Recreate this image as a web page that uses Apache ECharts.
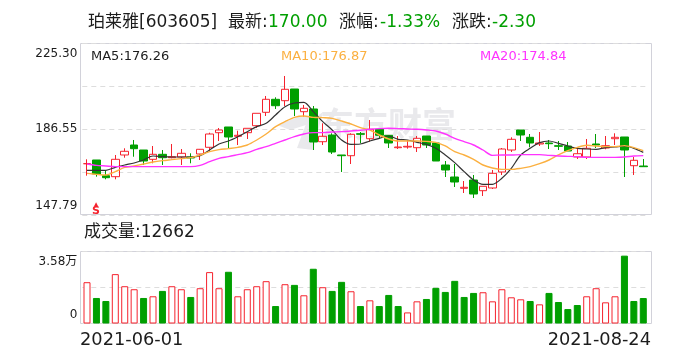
<!DOCTYPE html>
<html>
<head>
<meta charset="utf-8">
<style>
  html, body { margin: 0; padding: 0; background: #fff; }
  #chart { width: 688px; height: 360px; }
</style>
<script src="https://cdn.jsdelivr.net/npm/echarts@6/dist/echarts.min.js"></script>
</head>
<body>
<div id="chart"></div>
<script>
const dates = [
  '2021-06-01','2021-06-02','2021-06-03','2021-06-04','2021-06-07','2021-06-08','2021-06-09','2021-06-10','2021-06-11','2021-06-15',
  '2021-06-16','2021-06-17','2021-06-18','2021-06-21','2021-06-22','2021-06-23','2021-06-24','2021-06-25','2021-06-28','2021-06-29',
  '2021-06-30','2021-07-01','2021-07-02','2021-07-05','2021-07-06','2021-07-07','2021-07-08','2021-07-09','2021-07-12','2021-07-13',
  '2021-07-14','2021-07-15','2021-07-16','2021-07-19','2021-07-20','2021-07-21','2021-07-22','2021-07-23','2021-07-26','2021-07-27',
  '2021-07-28','2021-07-29','2021-07-30','2021-08-02','2021-08-03','2021-08-04','2021-08-05','2021-08-06','2021-08-09','2021-08-10',
  '2021-08-11','2021-08-12','2021-08-13','2021-08-16','2021-08-17','2021-08-18','2021-08-19','2021-08-20','2021-08-23','2021-08-24'
];

// [open, close, low, high]
const candles = [
  [170.91,170.91,165.50,172.89],[172.58,166.27,165.05,172.58],[165.50,164.60,163.88,167.62],[165.05,172.89,163.88,174.83],[174.83,176.50,173.61,177.85],
  [179.33,177.67,174.06,181.59],[177.08,172.12,170.32,177.08],[172.89,175.14,171.09,178.88],[175.14,173.61,170.32,177.08],[173.61,174.06,173.34,179.79],
  [173.93,175.59,170.32,177.53],[173.93,173.48,171.09,175.59],[175.28,177.40,172.58,177.53],[178.30,184.29,176.77,184.88],[184.88,186.09,181.14,187.00],
  [187.45,182.94,177.98,187.45],[183.26,183.71,179.33,185.78],[184.88,186.86,182.04,186.86],[188.03,193.62,187.00,193.62],[194.07,199.93,192.40,201.42],
  [199.93,197.04,195.56,200.83],[199.30,204.44,196.91,210.43],[204.57,195.56,192.40,204.57],[194.34,195.87,192.09,197.36],[195.56,180.69,177.08,196.91],
  [180.82,183.26,179.33,189.11],[183.84,176.18,175.28,184.61],[174.83,174.51,167.17,174.83],[174.51,184.16,170.77,184.61],[184.43,184.16,180.10,185.19],
  [182.17,186.41,180.82,190.60],[186.41,183.71,182.17,186.41],[183.71,180.24,177.98,183.71],[178.12,178.43,177.53,183.39],[178.43,178.75,177.67,181.59],
  [178.12,182.35,176.18,183.39],[183.39,179.33,177.98,183.39],[180.24,172.12,172.12,180.24],[170.32,168.07,164.91,172.12],[164.91,162.66,160.41,170.77],
  [159.82,160.27,157.70,163.11],[163.56,157.25,155.45,165.82],[158.74,160.72,156.35,160.72],[159.96,166.58,159.51,168.07],[167.17,177.53,165.82,177.98],
  [177.08,181.90,176.18,182.80],[186.09,183.84,181.14,186.09],[182.80,180.24,178.30,184.29],[179.79,180.24,178.88,185.19],[180.24,179.92,177.53,181.59],
  [179.02,178.75,177.08,181.14],[178.88,176.63,176.63,180.69],[173.93,175.41,173.03,178.12],[173.93,177.85,173.03,182.04],[179.79,179.33,177.98,184.29],
  [177.98,179.02,177.40,183.39],[182.17,182.80,179.33,184.61],[182.94,177.08,164.91,182.94],[170.01,172.44,165.82,173.93],[169.87,169.56,169.56,173.03]
];

const ma5 = [
  167.92,167.92,167.92,169.27,170.32,171.23,172.58,174.38,174.08,173.93,
  173.93,173.93,174.53,177.08,179.79,181.14,183.09,185.34,187.60,189.10,
  192.86,196.61,198.26,198.56,194.36,189.85,186.10,181.59,179.64,179.79,
  181.14,182.34,183.39,181.89,181.59,180.54,179.64,177.83,174.83,171.38,
  167.32,163.56,161.61,161.61,164.32,168.82,174.83,177.83,180.39,181.14,
  180.09,178.89,177.83,177.53,177.38,178.13,178.44,178.89,177.83,176.03
];
const ma10 = [
  166.57,166.12,165.82,167.32,169.27,169.87,170.77,171.68,172.28,172.73,
  173.18,173.63,174.83,176.33,177.23,177.68,178.28,179.34,181.59,184.29,
  187.60,189.85,191.80,192.40,191.80,191.65,191.35,190.15,188.80,187.15,
  186.10,183.84,182.04,181.14,181.14,181.14,180.99,180.54,178.89,176.33,
  174.83,172.88,170.32,168.97,168.37,168.37,168.82,169.57,170.92,172.58,
  174.83,176.78,178.28,179.19,178.89,178.59,178.59,179.04,178.13,176.78
];
const ma20 = [
  170.77,170.17,169.87,169.57,169.57,169.57,169.57,169.57,169.57,169.57,
  169.57,169.57,170.17,171.83,173.33,174.08,174.98,175.88,177.38,178.59,
  180.09,181.59,183.09,184.29,184.89,184.89,185.19,185.34,185.64,185.95,
  186.40,186.70,186.85,186.70,186.55,186.40,186.10,185.64,184.29,182.34,
  180.84,179.34,177.08,174.68,174.83,174.83,174.98,174.98,174.98,174.68,
  174.38,174.23,174.08,173.78,173.78,173.78,173.78,173.93,174.38,174.53
];

const volumes = [
  20541,12692,11189,24549,18537,17034,12692,13527,16199,18537,
  17034,13193,17535,25551,17535,25718,13527,17034,18537,21042,
  8684,19539,19205,14028,27221,18036,16199,20708,16032,8684,
  11523,8684,14195,8684,5511,11022,12191,17702,15698,21209,
  13193,15197,15531,11022,17034,13026,12024,11189,9519,15197,
  10688,7181,9185,13527,17535,10521,13527,33734,11189,12662
];
// 1 = red hollow bar, 0 = green filled bar
const volumeUp = [
  1,0,0,1,1,1,0,1,0,1,
  1,0,1,1,1,0,1,1,1,1,
  0,1,0,1,0,1,0,0,1,0,
  1,0,0,0,1,1,0,0,0,0,
  0,0,1,1,1,1,1,0,1,0,
  0,0,0,1,1,1,1,0,0,0
];

const priceTicks = { min: 147.79, mid: 186.55, max: 225.30 };
const volumeMax = 35800;

const RED = '#f5222d';
const GREEN = '#009f00';
const TEXT = '#1c1c1c';
const FRAME = '#d2d2da';
const WATERMARK = '#e9e9ec';
const FONT = '"DejaVu Sans", "Noto Sans CJK SC", sans-serif';

const chart = echarts.init(document.getElementById('chart'), null, { renderer: 'canvas' });

const label = (x, y, text, size, fill, extra) => ({
  type: 'text',
  x,
  y,
  silent: true,
  z: 20,
  style: Object.assign({ text, fontSize: size, fontFamily: FONT, fill, textVerticalAlign: 'middle' }, extra || {}),
});

// labels at the ends of an axis sit inside the frame, not centred on the tick
const edgeRich = {
  top: { padding: [21, 0, 0, 0], fontSize: 12, fontFamily: FONT, color: TEXT },
  bot: { padding: [0, 0, 18, 0], fontSize: 12, fontFamily: FONT, color: TEXT },
  mid: { fontSize: 12, fontFamily: FONT, color: TEXT },
};

chart.setOption({
  animation: false,
  backgroundColor: '#fff',
  grid: [
    { left: 82.3, right: 40, top: 43, height: 172 },
    { left: 82.3, right: 40, top: 251.5, height: 72 },
  ],
  xAxis: [
    { type: 'category', gridIndex: 0, data: dates, axisLine: { show: false }, axisTick: { show: false }, axisLabel: { show: false }, splitLine: { show: false } },
    { type: 'category', gridIndex: 1, data: dates, axisLine: { show: false }, axisTick: { show: false }, axisLabel: { show: false }, splitLine: { show: false } },
  ],
  yAxis: [
    {
      type: 'value',
      gridIndex: 0,
      min: priceTicks.min,
      max: priceTicks.max,
      interval: (priceTicks.max - priceTicks.min) / 4,
      axisLine: { show: false },
      axisTick: { show: false },
      splitLine: { lineStyle: { color: '#dddddd', type: [5, 4], width: 1 } },
      axisLabel: {
        margin: 5,
        rich: edgeRich,
        showMinLabel: true,
        showMaxLabel: true,
        formatter: (v) => {
          if (Math.abs(v - priceTicks.max) < 0.1) return '{top|' + priceTicks.max.toFixed(2) + '}';
          if (Math.abs(v - priceTicks.mid) < 0.1) return '{mid|' + priceTicks.mid.toFixed(2) + '}';
          if (Math.abs(v - priceTicks.min) < 0.1) return '{bot|' + priceTicks.min.toFixed(2) + '}';
          return '';
        },
      },
    },
    {
      type: 'value',
      gridIndex: 1,
      min: 0,
      max: volumeMax,
      interval: volumeMax / 2,
      axisLine: { show: false },
      axisTick: { show: false },
      splitLine: { lineStyle: { color: '#dddddd', type: [5, 4], width: 1 } },
      axisLabel: {
        margin: 5,
        rich: edgeRich,
        formatter: (v) => (v === 0 ? '{bot|0}' : v === volumeMax ? '{top|3.58万}' : ''),
      },
    },
  ],
  series: [
    {
      name: 'K',
      type: 'candlestick',
      data: candles,
      barWidth: 8,
      itemStyle: { color: 'transparent', color0: GREEN, borderColor: RED, borderColor0: GREEN, borderWidth: 1 },
      z: 3,
    },
    { name: 'MA5', type: 'line', data: ma5, smooth: 0.3, symbol: 'none', lineStyle: { color: '#333333', width: 1.2 }, z: 4 },
    { name: 'MA10', type: 'line', data: ma10, smooth: 0.3, symbol: 'none', lineStyle: { color: '#fbb040', width: 1.4 }, z: 4 },
    { name: 'MA20', type: 'line', data: ma20, smooth: 0.3, symbol: 'none', lineStyle: { color: '#ff33ff', width: 1.4 }, z: 4 },
    {
      name: '成交量',
      type: 'bar',
      xAxisIndex: 1,
      yAxisIndex: 1,
      barWidth: 7,
      data: volumes.map((v, i) => ({
        value: v,
        itemStyle: volumeUp[i]
          ? { color: '#fff', borderColor: RED, borderWidth: 1 }
          : { color: GREEN, borderColor: GREEN, borderWidth: 1 },
      })),
    },
  ],
  graphic: [
    // frames
    { type: 'rect', silent: true, z: -2, shape: { x: 80.5, y: 43.5, width: 571, height: 171 }, style: { fill: 'none', stroke: FRAME, lineWidth: 1 } },
    { type: 'rect', silent: true, z: -2, shape: { x: 80.5, y: 251.5, width: 571, height: 72 }, style: { fill: 'none', stroke: FRAME, lineWidth: 1 } },
    // watermark, under the candles
    { type: 'polygon', silent: true, z: -1, shape: { points: [[277, 125], [298, 117], [318, 115], [306, 125], [290, 130]] }, style: { fill: WATERMARK } },
    { type: 'polygon', silent: true, z: -1, shape: { points: [[297, 148], [306, 124], [323, 112], [313, 150]] }, style: { fill: WATERMARK } },
    Object.assign(label(320, 128, '东方财富', 34, WATERMARK, { fontWeight: 'bold' }), { z: -1 }),
    // header
    label(88, 23, '珀莱雅[603605]', 17, TEXT),
    label(228, 23, '最新:', 17, TEXT),
    label(268, 23, '170.00', 17, GREEN),
    label(339, 23, '涨幅:', 17, TEXT),
    label(380, 23, '-1.33%', 17, GREEN),
    label(452, 23, '涨跌:', 17, TEXT),
    label(492, 23, '-2.30', 17, GREEN),
    // MA legend
    label(91, 57, 'MA5:176.26', 13, TEXT),
    label(281, 57, 'MA10:176.87', 13, '#fbb040'),
    label(480, 57, 'MA20:174.84', 13, '#ff33ff'),
    // S marker
    label(96, 204.5, '▲', 6, RED, { textAlign: 'center' }),
    label(96, 211, 'S', 11, RED, { textAlign: 'center', fontWeight: 'bold' }),
    // volume title and dates
    label(84, 233, '成交量:12662', 17, TEXT),
    label(80, 340, '2021-06-01', 17.8, TEXT),
    label(651, 340, '2021-08-24', 17.8, TEXT, { textAlign: 'right' }),
  ],
});
</script>
</body>
</html>
